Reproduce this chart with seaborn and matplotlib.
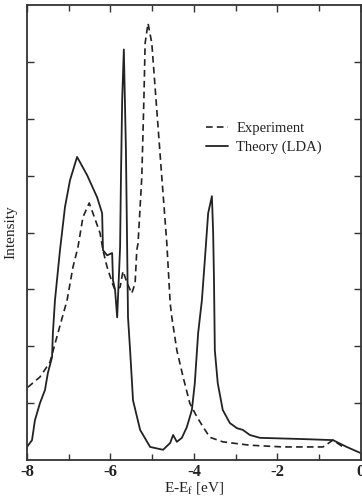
import matplotlib
matplotlib.use("Agg")
import matplotlib.pyplot as plt
import seaborn as sns
import pandas as pd
from matplotlib.ticker import MultipleLocator

theory_x = [-8.00, -7.88, -7.81, -7.69, -7.57, -7.50, -7.40, -7.38, -7.33, -7.21, -7.09, -6.97,
            -6.80, -6.56, -6.32, -6.20, -6.18, -6.08, -5.96, -5.94, -5.89, -5.84, -5.82, -5.77,
            -5.75, -5.72, -5.68, -5.63, -5.60, -5.58, -5.53, -5.46, -5.29, -5.05, -4.74, -4.57,
            -4.50, -4.41, -4.29, -4.17, -4.05, -3.98, -3.90, -3.81, -3.74, -3.66, -3.57, -3.54,
            -3.52, -3.50, -3.43, -3.31, -3.14, -2.97, -2.83, -2.66, -2.42, -1.46, -0.67, -0.34, 0.00]
theory_y = [0.23, 0.35, 0.70, 1.00, 1.23, 1.53, 1.81, 2.23, 2.81, 3.69, 4.45, 4.92,
            5.33, 5.01, 4.62, 4.34, 3.69, 3.60, 3.64, 3.16, 2.99, 2.51, 2.86, 3.74,
            4.92, 6.33, 7.22, 5.45, 3.69, 2.51, 1.93, 1.05, 0.53, 0.23, 0.18, 0.30,
            0.44, 0.32, 0.39, 0.58, 0.88, 1.35, 2.23, 2.81, 3.51, 4.34, 4.64, 3.99,
            3.16, 1.93, 1.35, 0.88, 0.65, 0.56, 0.53, 0.44, 0.39, 0.37, 0.35, 0.23, 0.12]

exp_x = [-7.98, -7.69, -7.45, -7.26, -7.04, -6.90, -6.78, -6.66, -6.51, -6.42, -6.25, -6.18,
         -6.08, -5.94, -5.89, -5.77, -5.70, -5.60, -5.49, -5.41, -5.37, -5.34, -5.25, -5.20,
         -5.17, -5.10, -5.01, -4.89, -4.77, -4.65, -4.57, -4.53, -4.41, -4.26, -4.10, -3.93,
         -3.78, -3.62, -3.31, -2.66, -1.87, -0.91, -0.67, -0.43]
exp_y = [1.28, 1.46, 1.72, 2.23, 2.81, 3.39, 3.74, 4.27, 4.52, 4.34, 3.99, 3.69,
         3.39, 3.08, 2.99, 3.04, 3.32, 3.11, 2.93, 3.11, 3.69, 3.81, 4.97, 6.33,
         7.33, 7.68, 7.33, 6.15, 4.97, 3.81, 2.76, 2.51, 1.93, 1.46, 1.00, 0.76,
         0.58, 0.40, 0.32, 0.26, 0.23, 0.23, 0.35, 0.23]

x_ticks = [-8, -6, -4, -2, 0]
x_ticklabels = ["-8", "-6", "-4", "-2", "0"]

sns.set_theme(style="white")
plt.rcParams['font.family'] = ['Liberation Serif', 'DejaVu Serif']
plt.rcParams['mathtext.fontset'] = 'custom'
plt.rcParams['mathtext.rm'] = 'Liberation Serif'
plt.rcParams['mathtext.it'] = 'Liberation Serif'

fig = plt.figure(figsize=(3.62, 5.01), dpi=100)
ax = fig.add_axes([0.0746, 0.0818, 0.9224, 0.908])

df_exp = pd.DataFrame({"x": exp_x, "y": exp_y})
df_th = pd.DataFrame({"x": theory_x, "y": theory_y})
sns.lineplot(data=df_exp, x="x", y="y", ax=ax, color="#222222", lw=1.2,
             linestyle=(0, (4, 2.5)), sort=False, label="Experiment")
sns.lineplot(data=df_th, x="x", y="y", ax=ax, color="#222222", lw=1.3,
             sort=False, label="Theory (LDA)")

ax.set_xlim(-8, 0)
ax.set_ylim(0, 8)
ax.set_xticks(x_ticks)
ax.set_xticklabels(x_ticklabels)
ax.xaxis.set_minor_locator(MultipleLocator(1))
ax.set_yticks([1, 2, 3, 4, 5, 6, 7])
ax.set_yticklabels([])
ax.tick_params(axis="both", which="both", direction="in", top=True, right=True,
               length=4, width=1.0, color="#333333", labelsize=12, pad=3, bottom=True, left=True)
ax.tick_params(axis="both", which="major", length=5)
for lab in ax.get_xticklabels():
    lab.set_fontweight("bold")
    lab.set_color("#222222")
for s in ax.spines.values():
    s.set_color("#333333")
    s.set_linewidth(1.3)

ax.set_xlabel(r"E-E$_\mathrm{f}$ [eV]", fontsize=11, labelpad=0, color="#222222")
ax.set_ylabel("Intensity", fontsize=11, labelpad=4, color="#222222")

leg = ax.legend(loc="upper left", bbox_to_anchor=(0.505, 0.765), frameon=False,
                fontsize=10.5, handlelength=1.5, handletextpad=0.6, labelspacing=0.35,
                borderpad=0.2)
for t in leg.get_texts():
    t.set_color("#222222")

fig.savefig("out.png", dpi=100)
